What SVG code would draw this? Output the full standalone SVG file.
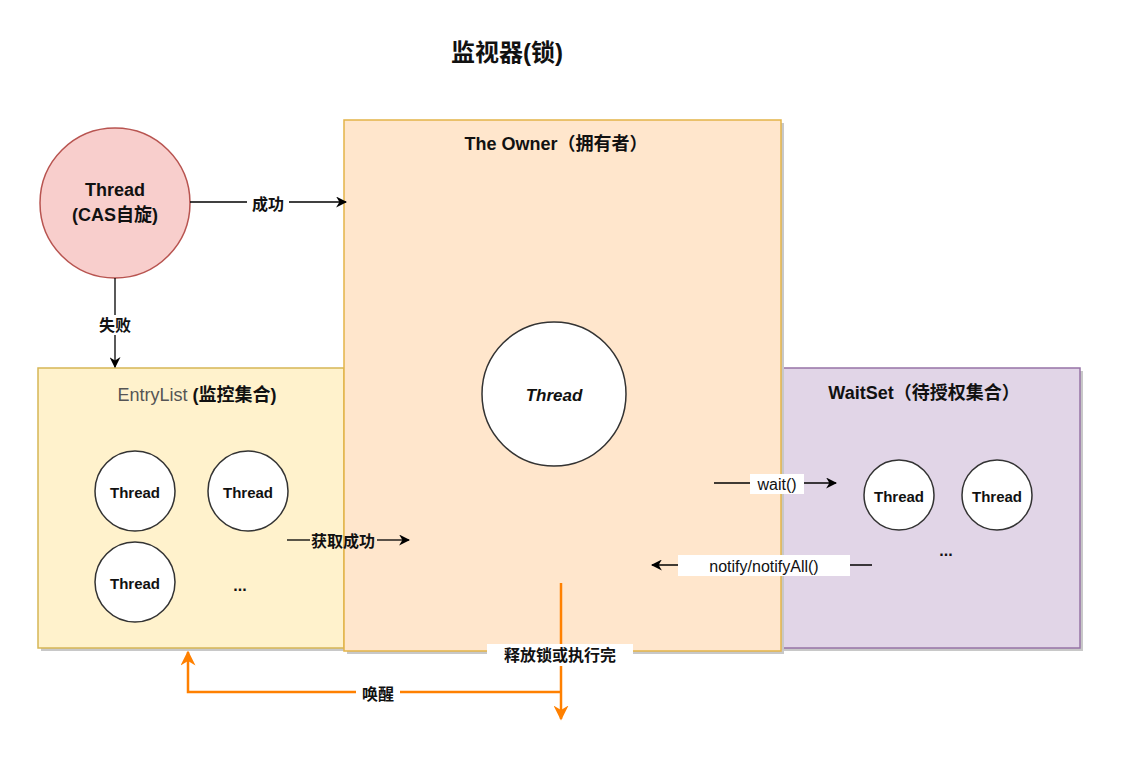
<svg xmlns="http://www.w3.org/2000/svg" width="1147" height="764" viewBox="0 0 1147 764">
<defs>
<marker id="ab" viewBox="0 0 10 10" refX="9" refY="5" markerWidth="11" markerHeight="11" markerUnits="userSpaceOnUse" orient="auto"><path d="M0,0 L10,5 L0,10 L3,5 Z" fill="#000"/></marker>
<marker id="ao" viewBox="0 0 10 10" refX="9" refY="5" markerWidth="15" markerHeight="15" markerUnits="userSpaceOnUse" orient="auto"><path d="M0,0 L10,5 L0,10 L3,5 Z" fill="#ff8000"/></marker>
</defs>
<style>
text{font-family:"Liberation Sans","Noto Sans CJK SC",sans-serif;fill:#111;text-anchor:middle;dominant-baseline:central;font-weight:bold}
.n{font-weight:normal}
.shadow{fill:#c8c8c8}
.c{fill:#fff;stroke:#333;stroke-width:1.5}
.lbl{font-size:16px}
.lb{fill:#fff}
.ln{stroke:#000;stroke-width:1.3;fill:none}
.or{stroke:#ff8000;stroke-width:2.5;fill:none}
</style>
<rect width="1147" height="764" fill="#fff"/>
<text x="507" y="52" font-size="24">监视器(锁)</text>
<g id="entrylist">
<rect x="41" y="371" width="306" height="280" class="shadow"/>
<rect x="38" y="368" width="306" height="280" fill="#fff2cc" stroke="#d6b656" stroke-width="1.5"/>
<text x="197" y="395" font-size="18"><tspan fill="#555" font-weight="normal">EntryList </tspan><tspan>(监控集合)</tspan></text>
</g>
<g id="waitset">
<rect x="784" y="371" width="299" height="280" class="shadow"/>
<rect x="781" y="368" width="299" height="280" fill="#e1d5e7" stroke="#9673a6" stroke-width="1.5"/>
<text x="924" y="393" font-size="18">WaitSet（待授权集合）</text>
</g>
<g id="owner">
<rect x="347" y="123" width="437" height="531" class="shadow"/>
<rect x="344" y="120" width="437" height="531" fill="#ffe6cc" stroke="#e3b448" stroke-width="1.5"/>
<text x="556" y="144" font-size="18">The Owner（拥有者）</text>
</g>
<g id="cas-thread">
<circle cx="115" cy="203" r="75" fill="#f8cecc" stroke="#b85450" stroke-width="1.5"/>
<text x="115" y="190" font-size="18">Thread</text>
<text x="115" y="215" font-size="18">(CAS自旋)</text>
</g>
<g id="owner-thread">
<circle cx="554" cy="394" r="72" class="c"/>
<text x="554" y="395" font-size="17" font-style="italic">Thread</text>
</g>
<g id="entry-t1"><circle cx="135" cy="491" r="40" class="c"/><text x="135" y="492" font-size="15">Thread</text></g>
<g id="entry-t2"><circle cx="248" cy="491" r="40" class="c"/><text x="248" y="492" font-size="15">Thread</text></g>
<g id="entry-t3"><circle cx="135" cy="582" r="40" class="c"/><text x="135" y="583" font-size="15">Thread</text></g>
<text x="240" y="585" font-size="16">...</text>
<g id="wait-t1"><circle cx="899" cy="495" r="35" class="c"/><text x="899" y="496" font-size="15">Thread</text></g>
<g id="wait-t2"><circle cx="997" cy="495" r="35" class="c"/><text x="997" y="496" font-size="15">Thread</text></g>
<text x="946" y="550" font-size="16">...</text>
<g id="connectors">
<line x1="190" y1="202" x2="346" y2="202" class="ln" marker-end="url(#ab)"/>
<rect x="247" y="193" width="42" height="20" class="lb"/>
<text x="268" y="204" class="lbl">成功</text>
<line x1="115" y1="278" x2="115" y2="367" class="ln" marker-end="url(#ab)"/>
<rect x="94" y="315" width="42" height="20" class="lb"/>
<text x="115" y="325" class="lbl">失败</text>
<line x1="287" y1="540" x2="310" y2="540" class="ln"/>
<line x1="377" y1="540" x2="409" y2="540" class="ln" marker-end="url(#ab)"/>
<text x="343" y="541" class="lbl">获取成功</text>
<line x1="714" y1="483" x2="836" y2="483" class="ln" marker-end="url(#ab)"/>
<rect x="750" y="474" width="54" height="20" class="lb"/>
<text x="777" y="484" class="lbl n" font-size="17">wait()</text>
<line x1="872" y1="565" x2="652" y2="565" class="ln" marker-end="url(#ab)"/>
<rect x="678" y="555" width="172" height="21" class="lb"/>
<text x="764" y="566" class="lbl n" font-size="17">notify/notifyAll()</text>
<path d="M561,583 L561,719" class="or" marker-end="url(#ao)"/>
<path d="M561,692 L188,692 L188,652" class="or" marker-end="url(#ao)"/>
<rect x="487" y="644" width="146" height="22" class="lb"/>
<text x="560" y="655" class="lbl">释放锁或执行完</text>
<rect x="356" y="684" width="44" height="20" class="lb"/>
<text x="378" y="694" class="lbl">唤醒</text>
</g>
</svg>
